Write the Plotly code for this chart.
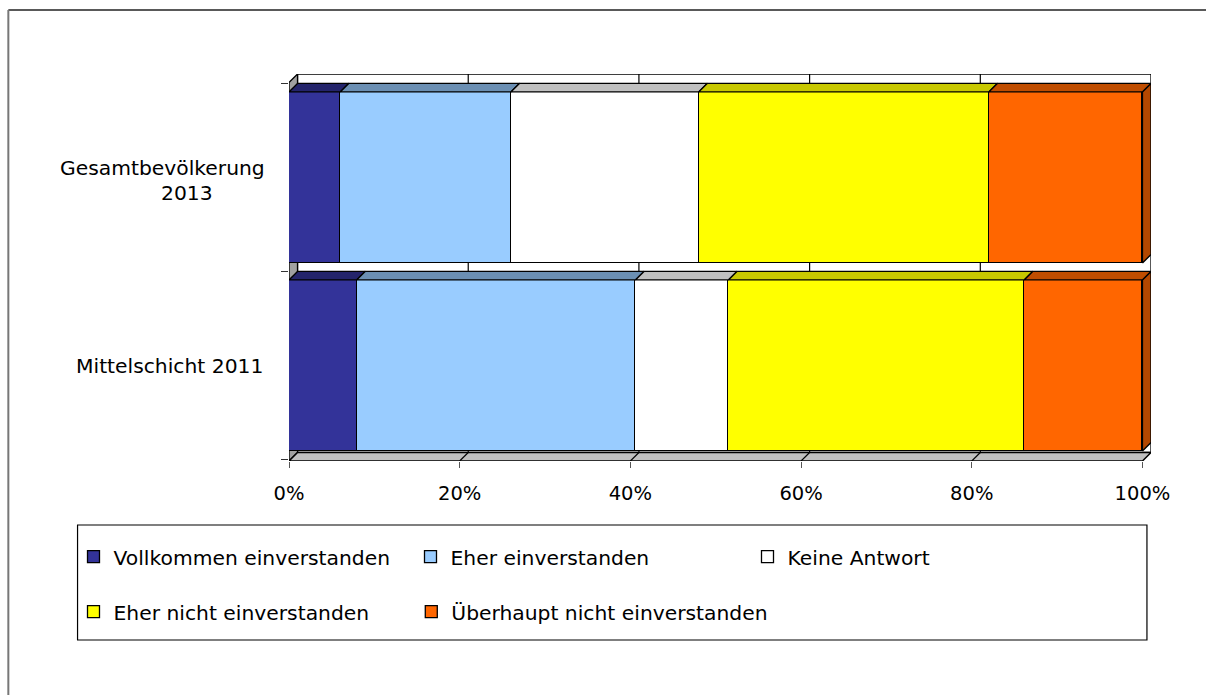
import plotly.graph_objects as go

# ---------------- data ----------------
categories = ["Mittelschicht 2011", "Gesamtbevölkerung 2013"]
series_names = ["Vollkommen einverstanden", "Eher einverstanden", "Keine Antwort",
                "Eher nicht einverstanden", "Überhaupt nicht einverstanden"]
vollkommen = [8, 6]
eher = [33, 20]
keine = [11, 22]
eher_nicht = [35, 34]
ueberhaupt = [14, 18]
x_tick_vals = [0, 20, 40, 60, 80, 100]
x_tick_text = ["0%", "20%", "40%", "60%", "80%", "100%"]

front_colors = ["#333399", "#99CCFF", "#FFFFFF", "#FFFF00", "#FF6600"]
top_colors = ["#24246B", "#6B8FB3", "#C0C0C0", "#C8C800", "#C04D00"]
side_color = "#B34700"

# ---------------- geometry (style) ----------------
FONT = "DejaVu Sans"
FS_TICK = 19.5
FS = 20.3
BAR_W = 0.91
DX = 1.0        # depth offset in x units (%)
DY = 0.0452     # depth offset in y units
Y0, Y1 = -0.508, 1.5505
X0, X1 = 0, 100 + DX
PLOT_L, PLOT_W = 289, 860

def px_to_paper_x(px):
    return (px - PLOT_L) / PLOT_W

series = [vollkommen, eher, keine, eher_nicht, ueberhaupt]
ypos = list(range(len(categories)))
totals = [sum(s[i] for s in series) for i in ypos]
pct = [[s[i] / totals[i] * 100 for i in ypos] for s in series]

legend_ids = ["legend", "legend", "legend", "legend2", "legend3"]

fig = go.Figure()

# front faces
for k, (name, vals) in enumerate(zip(series_names, pct)):
    fig.add_trace(go.Bar(
        y=ypos, x=vals, orientation="h", width=BAR_W, name=name,
        marker=dict(color=front_colors[k], line=dict(color="black", width=1.3)),
        legend=legend_ids[k],
    ))

# top faces
cum = [[0.0] * len(ypos)]
for vals in pct:
    cum.append([c + v for c, v in zip(cum[-1], vals)])
for k in range(len(pct)):
    xs, ys = [], []
    for i in ypos:
        a, b = cum[k][i], cum[k + 1][i]
        yt = i + BAR_W / 2
        xs += [a, b, b + DX, a + DX, a, None]
        ys += [yt, yt, yt + DY, yt + DY, yt, None]
    fig.add_trace(go.Scatter(x=xs, y=ys, mode="lines", fill="toself",
                             fillcolor=top_colors[k], line=dict(color="black", width=1.3),
                             showlegend=False, hoverinfo="skip"))
# right side face of last segment
xs, ys = [], []
for i in ypos:
    e = cum[-1][i]
    yb, yt = i - BAR_W / 2, i + BAR_W / 2
    xs += [e, e, e + DX, e + DX, e, None]
    ys += [yb, yt, yt + DY, yb + DY, yb, None]
fig.add_trace(go.Scatter(x=xs, y=ys, mode="lines", fill="toself", fillcolor=side_color,
                         line=dict(color="black", width=1.3), showlegend=False, hoverinfo="skip"))

shapes = []
# back wall
shapes.append(dict(type="rect", xref="x", yref="y", x0=DX, x1=100 + DX, y0=Y0 + DY, y1=Y1,
                   fillcolor="white", line=dict(color="black", width=1.3), layer="below"))
# back wall grid lines
for v in x_tick_vals[1:-1]:
    shapes.append(dict(type="line", xref="x", yref="y", x0=v + DX, x1=v + DX, y0=Y0 + DY, y1=Y1,
                       line=dict(color="black", width=1.2), layer="below"))
# left wall
shapes.append(dict(type="path", xref="x", yref="y",
                   path=f"M 0,{Y0} L 0,{Y1 - DY} L {DX},{Y1} L {DX},{Y0 + DY} Z",
                   fillcolor="#A0A0A0", line=dict(color="black", width=1.3), layer="below"))
# floor
shapes.append(dict(type="path", xref="x", yref="y",
                   path=f"M 0,{Y0} L 100,{Y0} L {100 + DX},{Y0 + DY} L {DX},{Y0 + DY} Z",
                   fillcolor="#C0C0C0", line=dict(color="black", width=1.5), layer="below"))
for v in x_tick_vals[1:-1]:
    shapes.append(dict(type="line", xref="x", yref="y", x0=v, x1=v + DX, y0=Y0, y1=Y0 + DY,
                       line=dict(color="black", width=1.2), layer="below"))

# chart-area frame (top and left edges visible)
shapes.append(dict(type="line", xref="paper", yref="paper", x0=-0.3256, x1=1.1, y0=1.1654, y1=1.1654,
                   line=dict(color="#222222", width=1.6)))
shapes.append(dict(type="line", xref="paper", yref="paper", x0=-0.3256, x1=-0.3256, y0=1.1654, y1=-0.65,
                   line=dict(color="#777777", width=2)))
# legend box
shapes.append(dict(type="rect", xref="paper", yref="paper", x0=-0.2453, x1=0.9953, y0=-0.1654, y1=-0.4625,
                   line=dict(color="black", width=1.2), fillcolor="rgba(0,0,0,0)"))

annotations = [
    dict(text=categories[0], xref="paper", yref="y", x=px_to_paper_x(265), y=0, xanchor="right",
         yanchor="middle", showarrow=False, font=dict(family=FONT, size=FS, color="black")),
    dict(text="Gesamtbevölkerung", xref="paper", yref="y", x=px_to_paper_x(267), y=1.0505,
         xanchor="right", yanchor="middle", showarrow=False,
         font=dict(family=FONT, size=FS, color="black")),
    dict(text="2013", xref="paper", yref="y", x=px_to_paper_x(187), y=0.9176, xanchor="center",
         yanchor="middle", showarrow=False, font=dict(family=FONT, size=FS, color="black")),
]

leg_common = dict(orientation="h", xanchor="left", yanchor="middle",
                  entrywidth=292, entrywidthmode="pixels", bgcolor="rgba(0,0,0,0)",
                  font=dict(family=FONT, size=FS, color="black"), traceorder="normal")
leg3 = dict(leg_common, entrywidth=340)

fig.update_layout(
    width=1206, height=695, autosize=False,
    margin=dict(l=289, r=55, t=74, b=234, pad=0),
    paper_bgcolor="white", plot_bgcolor="rgba(0,0,0,0)",
    barmode="stack", bargap=0,
    font=dict(family=FONT, size=FS, color="black"),
    xaxis=dict(range=[X0, X1], tickvals=x_tick_vals, ticktext=x_tick_text, ticks="outside",
               ticklen=6, tickcolor="#555555", showgrid=False, zeroline=False, showline=False,
               ticklabelstandoff=9,
               tickfont=dict(family=FONT, size=FS_TICK, color="black"), fixedrange=True),
    yaxis=dict(range=[Y0, Y1], tickvals=[-0.5, 0.5, 1.5], ticks="outside", ticklen=7,
               tickcolor="#333333", showticklabels=False, showgrid=False, zeroline=False,
               showline=False, fixedrange=True),
    legend=dict(x=px_to_paper_x(74), y=-0.248, **leg_common),
    legend2=dict(x=px_to_paper_x(74), y=-0.390, **leg_common),
    legend3=dict(x=px_to_paper_x(74 + 337), y=-0.390, **leg3),
    shapes=shapes, annotations=annotations, showlegend=True,
)

fig.write_html("out.html", config={"displayModeBar": False},
               post_script="document.body.style.margin='0';document.body.style.overflow='hidden';")
